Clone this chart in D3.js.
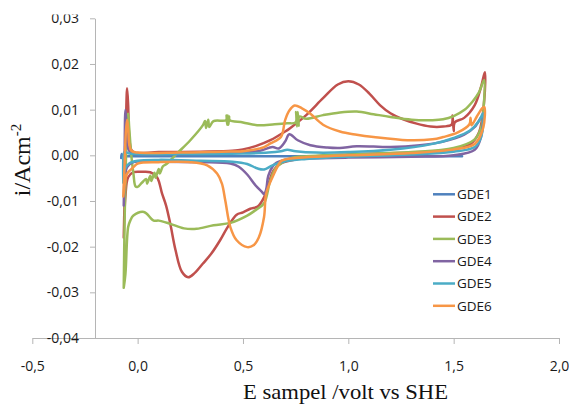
<!DOCTYPE html>
<html>
<head>
<meta charset="utf-8">
<script src="https://cdn.jsdelivr.net/npm/d3@7"></script>
<style>
  html, body { margin: 0; padding: 0; background: #fff; }
  svg { display: block; }
</style>
</head>
<body>
<svg id="chart" width="569" height="405"></svg>
<script>
// ---- data (E in volt vs SHE, i in A/cm^2), each series traced as forward + reverse scan ----
const seriesNames = ["GDE1", "GDE2", "GDE3", "GDE4", "GDE5", "GDE6"];
const seriesColors = ["#4F81BD", "#C0504D", "#9BBB59", "#8064A2", "#4BACC6", "#F79646"];

const xTicks = [-0.5, 0.0, 0.5, 1.0, 1.5, 2.0];
const yTicks = [-0.04, -0.03, -0.02, -0.01, 0.00, 0.01, 0.02, 0.03];

const gde1 = [[-0.078,-0.0006],[-0.076,0.0003],[-0.072,-0.0002],[-0.05,-0.0002],[0.2,-0.0002],[0.5,-0.0002],[0.8,-0.0002],[1.1,-0.0002],[1.3,-0.0002],[1.54,-0.0002]];

const gde2 = [[-0.066,-0.018],[-0.06,-0.005],[-0.055,0.008],[-0.05,0.0147],[-0.045,0.011],[-0.04,0.004],[-0.03,0.0012],[-0.015,0.0006],[0.1,0.0007],[0.3,0.0008],[0.45,0.001],[0.5,0.0013],[0.56,0.002],[0.63,0.0033],[0.7,0.0052],[0.725,0.006],[0.8,0.0088],[0.88,0.0125],[0.95,0.0155],[1.0,0.0162],[1.05,0.0155],[1.1,0.0135],[1.15,0.011],[1.2,0.0092],[1.26,0.0079],[1.32,0.007],[1.39,0.0063],[1.45,0.0063],[1.49,0.0067],[1.495,0.0087],[1.5,0.0053],[1.505,0.0072],[1.55,0.0082],[1.6,0.011],[1.63,0.015],[1.648,0.0182],
  [1.645,0.012],[1.62,0.005],[1.58,0.0025],[1.5,0.0013],[1.3,0.0006],[1.0,0.0002],[0.8,-0.0004],[0.72,-0.0012],[0.68,-0.0018],[0.645,-0.0033],[0.62,-0.0065],[0.6,-0.0092],[0.57,-0.0112],[0.535,-0.0117],[0.5,-0.0125],[0.47,-0.013],[0.43,-0.0155],[0.39,-0.0187],[0.35,-0.0215],[0.31,-0.0237],[0.27,-0.0258],[0.24,-0.0267],[0.21,-0.0255],[0.18,-0.0208],[0.155,-0.015],[0.135,-0.011],[0.116,-0.0084],[0.092,-0.0048],[0.06,-0.0037],[0.02,-0.0036],[-0.02,-0.0037],[-0.045,-0.0048],[-0.058,-0.009],[-0.066,-0.018]];

const gde3 = [[-0.066,-0.029],[-0.062,-0.015],[-0.055,0.0],[-0.048,0.0085],[-0.045,0.0091],[-0.04,0.006],[-0.03,0.0],[-0.02,-0.004],[-0.01,-0.0068],[0.0,-0.0069],[0.02,-0.006],[0.04,-0.0052],[0.045,-0.0062],[0.06,-0.0045],[0.065,-0.0056],[0.08,-0.0038],[0.085,-0.0049],[0.1,-0.003],[0.105,-0.004],[0.12,-0.0024],[0.14,-0.0018],[0.187,0.0004],[0.25,0.0033],[0.31,0.0066],[0.32,0.0075],[0.325,0.006],[0.335,0.0078],[0.34,0.0062],[0.36,0.0075],[0.42,0.0077],[0.422,0.0087],[0.425,0.0067],[0.428,0.0087],[0.431,0.0067],[0.434,0.0085],[0.437,0.0077],[0.5,0.0072],[0.567,0.0066],[0.65,0.0068],[0.71,0.007],[0.75,0.0072],[0.752,0.0095],[0.756,0.0063],[0.76,0.0095],[0.764,0.0065],[0.768,0.0085],[0.8,0.008],[0.88,0.0088],[0.96,0.0094],[1.04,0.0096],[1.12,0.009],[1.2,0.0084],[1.3,0.0078],[1.4,0.0077],[1.45,0.0079],[1.5,0.0086],[1.55,0.0099],[1.59,0.0118],[1.62,0.0138],[1.645,0.0165],
  [1.643,0.011],[1.63,0.006],[1.6,0.0035],[1.5,0.0016],[1.3,0.0007],[1.0,0.0002],[0.8,-0.0002],[0.725,-0.0007],[0.66,-0.0026],[0.63,-0.0055],[0.6,-0.0105],[0.56,-0.012],[0.52,-0.0132],[0.44,-0.0148],[0.36,-0.0153],[0.28,-0.0161],[0.22,-0.016],[0.155,-0.015],[0.1,-0.0143],[0.076,-0.0143],[0.03,-0.0124],[-0.02,-0.0132],[-0.035,-0.0143],[-0.045,-0.0157],[-0.058,-0.026],[-0.066,-0.029]];

const gde4 = [[-0.066,-0.011],[-0.062,0.0],[-0.058,0.0099],[-0.052,0.006],[-0.045,0.0015],[-0.03,0.0005],[0.1,0.0003],[0.3,0.0004],[0.5,0.0006],[0.58,0.001],[0.64,0.0018],[0.67,0.0015],[0.7,0.003],[0.72,0.0046],[0.76,0.0033],[0.82,0.0022],[0.9,0.0017],[0.96,0.0016],[1.04,0.002],[1.2,0.0018],[1.34,0.0022],[1.45,0.003],[1.55,0.0045],[1.6,0.0062],[1.635,0.0085],
  [1.63,0.004],[1.6,0.0012],[1.5,0.0],[1.3,-0.0003],[1.0,-0.0005],[0.8,-0.0007],[0.72,-0.0008],[0.66,-0.0016],[0.64,-0.0025],[0.62,-0.0045],[0.61,-0.0075],[0.6,-0.0085],[0.59,-0.008],[0.56,-0.0066],[0.52,-0.0042],[0.48,-0.0025],[0.44,-0.0018],[0.3,-0.0015],[0.1,-0.0014],[-0.02,-0.0015],[-0.05,-0.0026],[-0.06,-0.005],[-0.066,-0.011]];

const gde5 = [[-0.068,-0.006],[-0.065,0.0005],[-0.06,0.0008],[-0.04,0.0004],[0.2,0.0003],[0.5,0.0004],[0.62,0.0006],[0.68,0.0009],[0.71,0.0012],[0.75,0.0009],[0.85,0.0006],[1.0,0.0007],[1.2,0.0012],[1.4,0.0025],[1.5,0.0038],[1.58,0.0055],[1.62,0.0075],[1.64,0.0092],
  [1.63,0.004],[1.6,0.0018],[1.5,0.0008],[1.3,0.0002],[1.0,-0.0003],[0.8,-0.0008],[0.7,-0.0013],[0.64,-0.0022],[0.6,-0.0031],[0.57,-0.0029],[0.52,-0.0019],[0.45,-0.0014],[0.3,-0.0012],[0.1,-0.001],[0.0,-0.0012],[-0.04,-0.0018],[-0.06,-0.003],[-0.068,-0.006]];

const gde6 = [[-0.068,-0.009],[-0.062,-0.002],[-0.056,0.005],[-0.05,0.0078],[-0.045,0.006],[-0.04,0.0025],[-0.03,0.001],[0.0,0.0006],[0.2,0.0006],[0.4,0.0008],[0.5,0.0009],[0.55,0.0012],[0.6,0.0018],[0.63,0.0026],[0.68,0.004],[0.7,0.0077],[0.72,0.0098],[0.745,0.0109],[0.78,0.0103],[0.82,0.0091],[0.88,0.0067],[0.96,0.0052],[1.04,0.0045],[1.12,0.004],[1.28,0.0033],[1.4,0.0035],[1.45,0.004],[1.52,0.005],[1.575,0.0068],[1.58,0.0082],[1.585,0.0066],[1.61,0.0085],[1.635,0.0103],[1.645,0.0106],
  [1.64,0.006],[1.6,0.0025],[1.5,0.0013],[1.3,0.0005],[1.0,0.0],[0.85,-0.0003],[0.75,-0.0006],[0.7,-0.0009],[0.68,-0.0013],[0.64,-0.0048],[0.61,-0.0084],[0.6,-0.0135],[0.575,-0.018],[0.55,-0.0197],[0.52,-0.0201],[0.47,-0.0186],[0.44,-0.0157],[0.416,-0.0099],[0.4,-0.0062],[0.377,-0.004],[0.33,-0.0022],[0.25,-0.0015],[0.1,-0.0015],[0.0,-0.0018],[-0.02,-0.0026],[-0.05,-0.004],[-0.06,-0.006],[-0.068,-0.009]];

const seriesData = [gde1, gde2, gde3, gde4, gde5, gde6];

// ---- drawing ----
const svg = d3.select("#chart");
const axisColor = "#b5b5b5";
const textColor = "#1a1a1a";
const tickFont = "'Open Sans', 'DejaVu Sans', sans-serif";

const x = d3.scaleLinear().domain([-0.5, 2.0]).range([32.3, 559]);
const y = d3.scaleLinear().domain([-0.04, 0.03]).range([338, 18.3]);
const fmt = (d, n) => d3.format("." + n + "f")(d).replace(".", ",").replace("−", "-");

// x axis
const gx = svg.append("g").attr("transform", "translate(0,338)")
  .call(d3.axisBottom(x).tickValues(xTicks).tickSize(6).tickSizeOuter(0).tickPadding(17).tickFormat(d => fmt(d, 1)));
gx.select(".domain").attr("stroke", axisColor);
gx.selectAll(".tick line").attr("stroke", axisColor);
gx.selectAll(".tick text").attr("fill", textColor).style("font-family", tickFont).style("font-size", "14px");

// y axis at pixel x=95
const gy = svg.append("g").attr("transform", "translate(95,0)")
  .call(d3.axisLeft(y).tickValues(yTicks).tickSize(5).tickSizeOuter(0).tickPadding(11).tickFormat(d => fmt(d, 2)));
gy.select(".domain").attr("stroke", axisColor);
gy.selectAll(".tick line").attr("stroke", axisColor);
gy.selectAll(".tick text").attr("fill", textColor).style("font-family", tickFont).style("font-size", "14px");

// series
const line = d3.line().x(d => x(d[0])).y(d => y(d[1])).curve(d3.curveCatmullRom.alpha(0.5));
svg.append("g").selectAll("path").data(seriesData).join("path")
  .attr("d", d => line(d))
  .attr("fill", "none")
  .attr("stroke", (d, i) => seriesColors[i])
  .attr("stroke-width", 2.5)
  .attr("stroke-linejoin", "round")
  .attr("stroke-linecap", "round");

// legend
const lg = svg.append("g");
seriesNames.forEach((name, i) => {
  const ly = 194.3 + i * 22.3;
  lg.append("line").attr("x1", 433).attr("x2", 455).attr("y1", ly).attr("y2", ly)
    .attr("stroke", seriesColors[i]).attr("stroke-width", 2.5);
  lg.append("text").attr("x", 457).attr("y", ly + 4.8).text(name)
    .attr("fill", textColor).style("font-family", tickFont).style("font-size", "13.5px");
});

// axis titles
svg.append("text").attr("x", 345.5).attr("y", 399).attr("text-anchor", "middle")
  .attr("textLength", 205).attr("lengthAdjust", "spacingAndGlyphs")
  .style("font-family", "'Liberation Serif', 'Times New Roman', serif").style("font-size", "21px")
  .attr("fill", "#111").text("E sampel /volt vs SHE");

const yt = svg.append("text").attr("transform", "translate(30,160) rotate(-90)").attr("text-anchor", "middle")
  .style("font-family", "'Liberation Serif', 'Times New Roman', serif").style("font-size", "24px").attr("fill", "#111");
yt.append("tspan").text("i/Acm");
yt.append("tspan").attr("dy", -9).style("font-size", "15px").text("-2");

// top crop of the original image
svg.append("rect").attr("x", 30).attr("y", 0).attr("width", 70).attr("height", 14.5).attr("fill", "#fff");
</script>
</body>
</html>
